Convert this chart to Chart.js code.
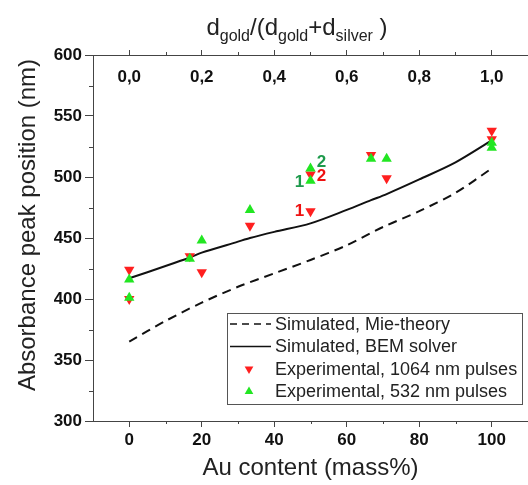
<!DOCTYPE html>
<html>
<head>
    <title>Absorbance peak position vs. Au content</title>
    <script src="https://cdn.jsdelivr.net/npm/chart.js"></script>
    <style>
        body { margin: 0; background: #fff; }
        canvas { display: block; }
    </style>
</head>
<body>
    <canvas id="myChart" width="528" height="485"></canvas>
    <script>
        // Data
        const mieX = [0, 10, 20, 30, 40, 50, 60, 70, 80, 90, 100];
        const mieY = [365, 382, 397, 410, 421, 432, 444, 459, 472, 487, 507];

        const bemX = [0, 10, 16.7, 20, 30, 33.3, 40, 50, 60, 66.7, 71, 80, 90, 100];
        const bemY = [417, 427, 434, 438, 447, 450, 455, 462, 473, 481, 486, 498, 512, 530];

        const red1064X = [0, 0, 16.7, 20, 33.3, 50, 50, 66.7, 71, 100, 100];
        const red1064Y = [424, 400, 435, 422, 460, 472, 502, 518, 499, 538, 531];

        const green532X = [0, 0, 16.7, 20, 33.3, 50, 50, 66.7, 71, 100, 100];
        const green532Y = [416, 401, 433, 448, 473, 497, 507, 515, 515, 528, 524];

        const xTicks = [0, 20, 40, 60, 80, 100];
        const yTicks = [300, 350, 400, 450, 500, 550, 600];
        const topTicks = [0, 0.2, 0.4, 0.6, 0.8, 1.0];

        const seriesLabels = [
            'Simulated, Mie-theory',
            'Simulated, BEM solver',
            'Experimental, 1064 nm pulses',
            'Experimental, 532 nm pulses'
        ];
        const yTitle = 'Absorbance peak position (nm)';

        // sample numbers written next to the 50 % points
        const pointTags = [
            { ds: 2, i: 5, text: '1', dx: -11, dy: 0 },
            { ds: 2, i: 6, text: '2', dx: 11, dy: 2 },
            { ds: 3, i: 5, text: '1', dx: -11, dy: 2 },
            { ds: 3, i: 6, text: '2', dx: 11, dy: -6 }
        ];

        const FONT = "'Liberation Sans', Arial, sans-serif";
        const AXIS = '#444';
        const RED = '#ff1f1f';
        const GREEN = '#22e622';

        const toXY = (xs, ys) => xs.map((x, i) => ({ x: x, y: ys[i] }));

        function setTicks(values) {
            return function (scale) {
                scale.ticks = values.map(v => ({ value: v }));
            };
        }

        const extras = {
            id: 'extras',
            afterDraw(chart) {
                const ctx = chart.ctx;
                const xs = chart.scales.x, ys = chart.scales.y, ts = chart.scales.x2;
                const area = chart.chartArea;
                ctx.save();

                // minor ticks
                ctx.strokeStyle = AXIS;
                ctx.lineWidth = 1;
                ctx.beginPath();
                for (let v = 325; v < 600; v += 50) {
                    const p = Math.round(ys.getPixelForValue(v)) + 0.5;
                    ctx.moveTo(area.left - 4, p); ctx.lineTo(area.left, p);
                }
                for (let v = 10; v < 110; v += 20) {
                    const p = Math.round(xs.getPixelForValue(v)) + 0.5;
                    ctx.moveTo(p, area.bottom); ctx.lineTo(p, area.bottom + 3);
                }
                for (let v = 0.1; v < 1.0; v += 0.2) {
                    const p = Math.round(ts.getPixelForValue(v)) + 0.5;
                    ctx.moveTo(p, area.top); ctx.lineTo(p, area.top - 3);
                }
                ctx.stroke();

                // top tick labels, written inside the frame
                ctx.fillStyle = '#111';
                ctx.font = 'bold 17px ' + FONT;
                ctx.textAlign = 'center';
                ctx.textBaseline = 'middle';
                topTicks.forEach(v => {
                    ctx.fillText(v.toFixed(1).replace('.', ','), ts.getPixelForValue(v), area.top + 22);
                });

                // top title with subscripts
                const parts = [
                    ['d', 0], ['gold', 1], ['/(d', 0], ['gold', 1], ['+d', 0], ['silver', 1], [' )', 0]
                ];
                const big = '24px ' + FONT, small = '16px ' + FONT;
                let w = 0;
                parts.forEach(p => { ctx.font = p[1] ? small : big; w += ctx.measureText(p[0]).width; });
                let x = 297 - w / 2;
                ctx.textAlign = 'left';
                ctx.textBaseline = 'alphabetic';
                ctx.fillStyle = '#222';
                parts.forEach(p => {
                    ctx.font = p[1] ? small : big;
                    ctx.fillText(p[0], x, p[1] ? 41 : 35);
                    x += ctx.measureText(p[0]).width;
                });

                // y axis title
                ctx.save();
                ctx.translate(28, 225);
                ctx.rotate(-Math.PI / 2);
                ctx.font = '24px ' + FONT;
                ctx.textAlign = 'center';
                ctx.textBaseline = 'middle';
                ctx.fillText(yTitle, 0, 0);
                ctx.restore();

                // numbers beside points
                ctx.font = 'bold 17px ' + FONT;
                ctx.textAlign = 'center';
                ctx.textBaseline = 'middle';
                pointTags.forEach(t => {
                    const el = chart.getDatasetMeta(t.ds).data[t.i];
                    ctx.fillStyle = t.ds === 2 ? '#ee1111' : '#1e9a4c';
                    ctx.fillText(t.text, el.x + t.dx, el.y + t.dy);
                });

                // legend box
                const bx = 227, by = 313, bw = 295, bh = 91;
                ctx.fillStyle = '#fff';
                ctx.fillRect(bx, by, bw, bh);
                ctx.strokeStyle = '#555';
                ctx.strokeRect(bx + 0.5, by + 0.5, bw, bh);
                ctx.font = '18px ' + FONT;
                ctx.textAlign = 'left';
                ctx.fillStyle = '#222';
                chart.data.datasets.forEach((ds, k) => {
                    const yy = by + 11 + k * 22.5;
                    if (k < 2) {
                        ctx.strokeStyle = '#111';
                        ctx.lineWidth = 1.6;
                        ctx.setLineDash(k === 0 ? [7, 5] : []);
                        ctx.beginPath();
                        ctx.moveTo(bx + 3, yy); ctx.lineTo(bx + 44, yy);
                        ctx.stroke();
                        ctx.setLineDash([]);
                    } else {
                        ctx.fillStyle = ds.backgroundColor;
                        ctx.beginPath();
                        const r = 5, s = k === 2 ? -1 : 1;
                        ctx.moveTo(bx + 22, yy - s * r);
                        ctx.lineTo(bx + 22 + r * 0.87, yy + s * r * 0.5);
                        ctx.lineTo(bx + 22 - r * 0.87, yy + s * r * 0.5);
                        ctx.closePath();
                        ctx.fill();
                    }
                    ctx.fillStyle = '#222';
                    ctx.fillText(ds.label, bx + 48, yy + 1);
                });
                ctx.restore();
            }
        };

        const ctx = document.getElementById('myChart').getContext('2d');
        new Chart(ctx, {
            type: 'scatter',
            data: {
                datasets: [
                    {
                        type: 'line',
                        label: seriesLabels[0],
                        data: toXY(mieX, mieY),
                        borderColor: '#111',
                        borderWidth: 2,
                        borderDash: [9, 6],
                        pointRadius: 0,
                        tension: 0.3,
                        fill: false,
                        order: 3
                    },
                    {
                        type: 'line',
                        label: seriesLabels[1],
                        data: toXY(bemX, bemY),
                        borderColor: '#111',
                        borderWidth: 2,
                        pointRadius: 0,
                        tension: 0.3,
                        fill: false,
                        order: 2
                    },
                    {
                        label: seriesLabels[2],
                        data: toXY(red1064X, red1064Y),
                        pointStyle: 'triangle',
                        rotation: 180,
                        pointRadius: 6,
                        backgroundColor: RED,
                        borderWidth: 0,
                        order: 1
                    },
                    {
                        label: seriesLabels[3],
                        data: toXY(green532X, green532Y),
                        pointStyle: 'triangle',
                        pointRadius: 6,
                        backgroundColor: GREEN,
                        borderWidth: 0,
                        order: 0
                    }
                ]
            },
            options: {
                responsive: false,
                animation: false,
                layout: { padding: 0, autoPadding: false },
                scales: {
                    x: {
                        type: 'linear',
                        position: 'bottom',
                        min: -10,
                        max: 110,
                        afterBuildTicks: setTicks(xTicks),
                        afterFit(scale) { scale.height = 64; },
                        grid: { drawOnChartArea: false, tickLength: 6, tickColor: AXIS },
                        border: { color: AXIS },
                        ticks: { color: '#111', padding: 3, font: { family: FONT, size: 17, weight: 'bold' } },
                        title: {
                            display: true,
                            text: 'Au content (mass%)',
                            color: '#222',
                            font: { family: FONT, size: 24 },
                            padding: { bottom: 2 }
                        }
                    },
                    x2: {
                        type: 'linear',
                        position: 'top',
                        min: -0.1,
                        max: 1.1,
                        afterBuildTicks: setTicks(topTicks),
                        afterFit(scale) { scale.height = 55; },
                        grid: { drawOnChartArea: false, tickLength: 5, tickColor: AXIS },
                        border: { color: AXIS },
                        ticks: { display: false }
                    },
                    y: {
                        min: 300,
                        max: 600,
                        afterBuildTicks: setTicks(yTicks),
                        afterFit(scale) { scale.width = 93; },
                        grid: { drawOnChartArea: false, tickLength: 8, tickColor: AXIS },
                        border: { color: AXIS },
                        ticks: { color: '#111', padding: 3, font: { family: FONT, size: 17, weight: 'bold' } }
                    }
                },
                plugins: {
                    legend: { display: false },
                    tooltip: { enabled: false }
                }
            },
            plugins: [extras]
        });
    </script>
</body>
</html>
